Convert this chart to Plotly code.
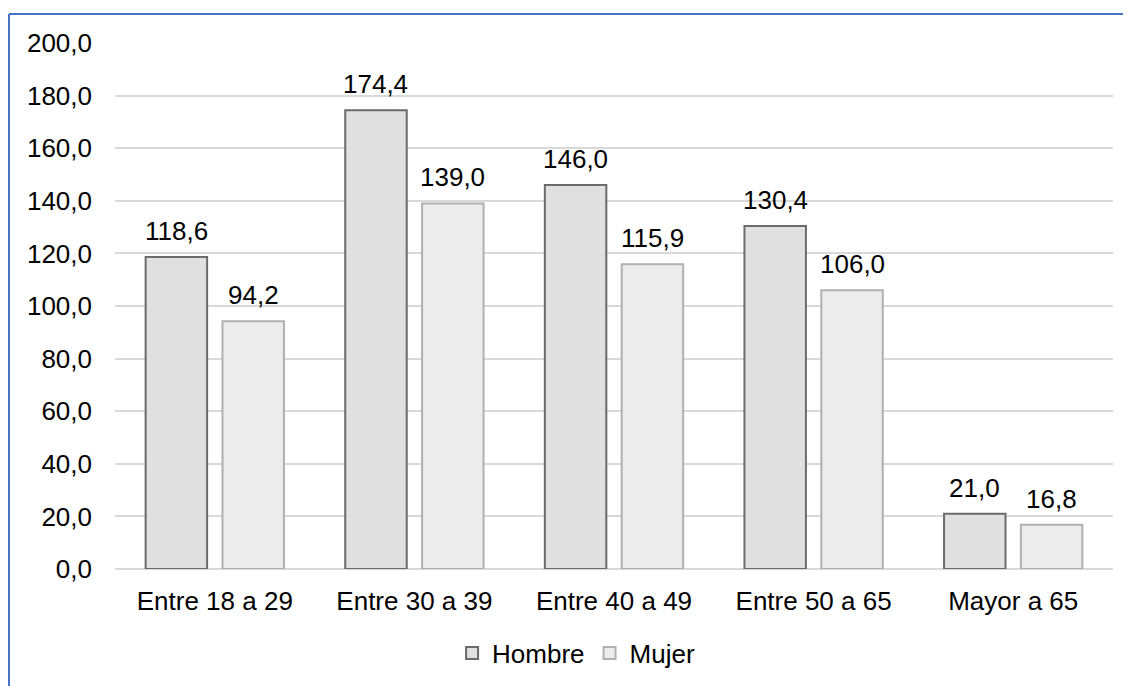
import plotly.graph_objects as go

categories = ["Entre 18 a 29", "Entre 30 a 39", "Entre 40 a 49", "Entre 50 a 65", "Mayor a 65"]
hombre = [118.6, 174.4, 146.0, 130.4, 21.0]
mujer = [94.2, 139.0, 115.9, 106.0, 16.8]
y_ticks = [0, 20, 40, 60, 80, 100, 120, 140, 160, 180, 200]

FONT = "Liberation Sans, Arial, sans-serif"
FS = 26

def fmt(v):
    return f"{v:.1f}".replace(".", ",")

fig = go.Figure()
fig.add_trace(go.Bar(
    name="Hombre", x=categories, y=hombre,
    marker=dict(color="#e0e0e0", line=dict(color="#6b6b6b", width=2)),
))
fig.add_trace(go.Bar(
    name="Mujer", x=categories, y=mujer,
    marker=dict(color="#ececec", line=dict(color="#b0b0b0", width=2)),
))

annotations = []
for series, shift in ((hombre, -38.5), (mujer, 38.5)):
    for c, v in zip(categories, series):
        annotations.append(dict(
            x=c, y=v, xref="x", yref="y", text=fmt(v), showarrow=False,
            xshift=shift, yshift=9, yanchor="bottom",
            font=dict(family=FONT, size=FS, color="#000000"),
        ))

border = dict(color="#4472c4", width=2)
fig.update_layout(
    width=1131, height=686,
    margin=dict(l=107, r=26, t=35, b=125),
    paper_bgcolor="white", plot_bgcolor="white",
    font=dict(family=FONT, size=FS, color="#000000"),
    separators=",.",
    barmode="group", bargap=0.23, bargroupgap=0.2,
    showlegend=True,
    legend=dict(orientation="h", x=0.462, xanchor="center", y=-0.16, yanchor="middle",
                font=dict(family=FONT, size=FS), itemwidth=30, traceorder="normal"),
    annotations=annotations,
    shapes=[
        dict(type="line", xref="paper", yref="paper", x0=-0.1062, x1=-0.1062,
             y0=-0.4, y1=1.0551, line=border, layer="above"),
        dict(type="line", xref="paper", yref="paper", x0=-0.1062, x1=1.2,
             y0=1.0551, y1=1.0551, line=border, layer="above"),
    ],
)
fig.update_xaxes(showgrid=False, showline=False, ticks="", ticklabelstandoff=14,
                 tickfont=dict(family=FONT, size=FS))
fig.update_yaxes(range=[0, 200], tickvals=y_ticks, tickformat=".1f",
                 showgrid=True, gridcolor="#d9d9d9", gridwidth=2,
                 zeroline=True, zerolinecolor="#d9d9d9", zerolinewidth=2,
                 showline=False, ticks="", ticklabelstandoff=22,
                 tickfont=dict(family=FONT, size=FS))

fig.write_html("out.html")
